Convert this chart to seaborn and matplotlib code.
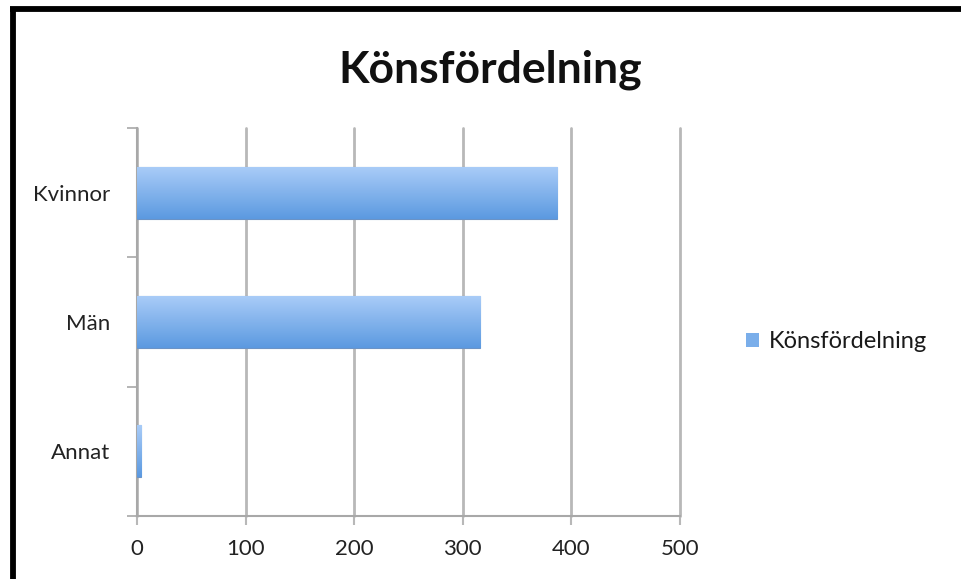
import matplotlib
matplotlib.use("Agg")
import matplotlib.pyplot as plt
import matplotlib.patches as mpatches
import matplotlib.lines as mlines
import numpy as np
import pandas as pd
import seaborn as sns

categories = ["Kvinnor", "Män", "Annat"]
values = [387, 316, 4]
series_name = "Könsfördelning"
title = "Könsfördelning"
xticks = [0, 100, 200, 300, 400, 500]

sns.set_theme(style="white")
plt.rcParams['font.family'] = ['Lato', 'DejaVu Sans']

df = pd.DataFrame({"cat": categories, "val": values})

fig = plt.figure(figsize=(9.61, 5.79), dpi=100)
ax = fig.add_axes([137/961, 1-516/579, (680-137)/961, (516-128)/579])

sns.barplot(data=df, y="cat", x="val", orient="h", ax=ax, width=0.40,
            color="#7aaeea", edgecolor="#6b93c6", linewidth=0.8, zorder=3)

# gradient fill on bars
light = np.array([0.66, 0.80, 0.97])
dark = np.array([0.36, 0.60, 0.88])
grad = np.linspace(0, 1, 64)[:, None]
img = light[None, None, :] * (1 - grad[:, :, None]) + dark[None, None, :] * grad[:, :, None]
for p in ax.patches:
    x0, y0 = p.get_x(), p.get_y()
    w, h = p.get_width(), p.get_height()
    if w <= 0:
        continue
    im = ax.imshow(img, extent=(x0, x0 + w, y0 + h, y0), aspect="auto",
                   origin="upper", zorder=3.5)
    im.set_clip_path(p)

ax.set_xlim(0, 500)
ax.set_ylim(2.5, -0.5)
ax.set_xticks(xticks)
ax.set_xticklabels([str(t) for t in xticks])
ax.set_yticks([0, 1, 2])
ax.set_yticklabels(categories)
ax.set_yticks([-0.5, 0.5, 1.5, 2.5], minor=True)
ax.set_xlabel("")
ax.set_ylabel("")

ax.grid(axis="x", color="#b8b8b8", linewidth=2.0, zorder=0)
ax.grid(axis="y", visible=False)
ax.set_axisbelow(True)
for gl in ax.get_xgridlines():
    gl.set_clip_on(False)

for s in ["top", "right"]:
    ax.spines[s].set_visible(False)
for s in ["left", "bottom"]:
    ax.spines[s].set_color("#a8a8a8")
    ax.spines[s].set_linewidth(1.5)

ax.tick_params(axis="y", which="major", length=0, pad=19, labelsize=16, labelcolor="#222222")
ax.tick_params(axis="y", which="minor", length=7.5, width=1.2, color="#a8a8a8", left=True)
ax.tick_params(axis="x", which="major", length=6.5, width=1.5, color="#b8b8b8", pad=10,
               labelsize=16, labelcolor="#222222", bottom=True)

fig.text(490/961, 1-70/579, title, ha="center", va="center",
         fontsize=32, fontweight="bold", color="#111111")

handle = mpatches.Patch(facecolor="#7aaeea", edgecolor="none")
fig.legend([handle], [series_name], loc="center left",
           bbox_to_anchor=(725/961, 1-342/579), frameon=False,
           fontsize=17, handlelength=0.55, handleheight=0.55, handletextpad=0.4,
           labelcolor="#1a1a1a")

# border frame (left and top)
fig.add_artist(mlines.Line2D([12.5/961, 12.5/961], [0, 1-8.5/579], color="black",
                             linewidth=4.2, transform=fig.transFigure, solid_capstyle="butt"))
fig.add_artist(mlines.Line2D([10/961, 1], [1-8.5/579, 1-8.5/579], color="black",
                             linewidth=4.2, transform=fig.transFigure, solid_capstyle="butt"))

fig.savefig("out.png", dpi=100)
